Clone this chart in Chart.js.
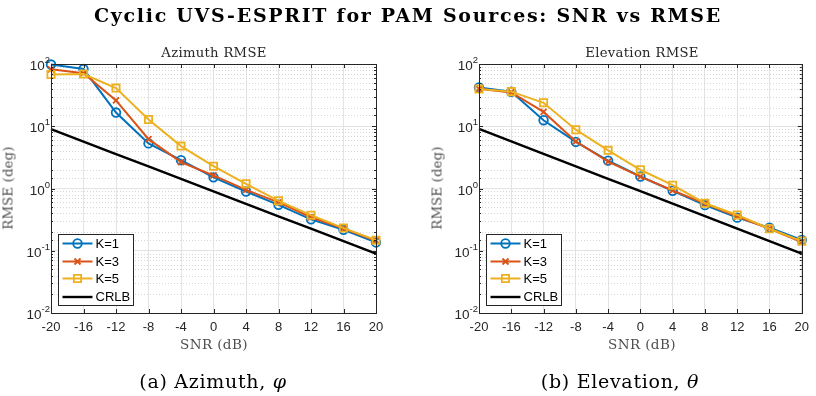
<!DOCTYPE html>
<html>
<head>
<meta charset="utf-8">
<script src="https://cdn.jsdelivr.net/npm/chart.js@4.4.0/dist/chart.umd.min.js"></script>
<style>
  html, body { margin: 0; padding: 0; background: #fff; }
  #page { position: relative; width: 816px; height: 396px; overflow: hidden; }
  .box { position: absolute; top: 0; width: 408px; height: 396px; }
  .txt { position: absolute; white-space: nowrap; transform: translate(-50%, -50%); font-family: "DejaVu Serif", serif; }
  .main { font-weight: bold; font-size: 19px; letter-spacing: 1.7px; color: #000; }
  .sub { font-size: 13.2px; letter-spacing: 0.3px; color: #262626; }
  .axl { font-size: 13.5px; letter-spacing: 0.4px; color: #4d4d4d; }
  .ylab { font-size: 13.2px; letter-spacing: 0.2px; transform: translate(-50%, -50%) rotate(-90deg); }
  .cap { font-size: 19px; letter-spacing: 0.7px; color: #000; }
</style>
</head>
<body>
<div id="page">
  <div class="box" style="left:0"><canvas id="azChart"></canvas></div>
  <div class="box" style="left:408px"><canvas id="elChart"></canvas></div>

  <div class="txt main" style="left:408px; top:15px">Cyclic UVS-ESPRIT for PAM Sources: SNR vs RMSE</div>
  <div class="txt sub" style="left:214px; top:52px">Azimuth RMSE</div>
  <div class="txt sub" style="left:642px; top:52px">Elevation RMSE</div>
  <div class="txt axl" style="left:214px; top:344px">SNR (dB)</div>
  <div class="txt axl" style="left:642px; top:344px">SNR (dB)</div>
  <div class="txt axl ylab" style="left:8px; top:188px">RMSE (deg)</div>
  <div class="txt axl ylab" style="left:437px; top:188px">RMSE (deg)</div>
  <div class="txt cap" style="left:213px; top:381px">(a) Azimuth, <i>φ</i></div>
  <div class="txt cap" style="left:620px; top:381px">(b) Elevation, <i>θ</i></div>
</div>

<script>
// SNR values (dB)
var snr = [-20, -16, -12, -8, -4, 0, 4, 8, 12, 16, 20];

// azimuth RMSE (deg)
var azK1 = [98, 83, 16.6, 5.3, 2.85, 1.51, 0.895, 0.547, 0.32, 0.217, 0.136];
var azK3 = [82, 71, 26, 6.2, 2.65, 1.62, 0.95, 0.6, 0.345, 0.228, 0.145];
var azK5 = [68, 69, 41, 12.8, 4.8, 2.28, 1.19, 0.634, 0.373, 0.231, 0.148];
var azCrlb = [9, 5.68, 3.58, 2.26, 1.43, 0.9, 0.568, 0.358, 0.226, 0.143, 0.09];

// elevation RMSE (deg)
var elK1 = [42, 35.8, 12.5, 5.6, 2.8, 1.56, 0.92, 0.54, 0.34, 0.234, 0.149];
var elK3 = [40, 35, 17, 5.7, 2.7, 1.55, 0.93, 0.57, 0.354, 0.226, 0.138];
var elK5 = [39.5, 36, 23.8, 8.8, 4.1, 2.0, 1.13, 0.58, 0.376, 0.226, 0.143];
var elCrlb = [9.06, 5.72, 3.6, 2.27, 1.43, 0.905, 0.57, 0.36, 0.227, 0.143, 0.09];

var seriesNames = ['K=1', 'K=3', 'K=5', 'CRLB'];
var yTicksMajor = [0.01, 0.1, 1, 10, 100];
var yTickExp = ['-2', '-1', '0', '1', '2'];

var colBlue = '#0072BD';
var colRed = '#D95319';
var colYellow = '#EDB120';
var colAxis = '#262626';
var sansFont = '"Liberation Sans", Arial, sans-serif';

function isMajor(v) {
    return yTicksMajor.some(function (m) { return Math.abs(v / m - 1) < 1e-6; });
}

// draw a marker like matlab's (used for the legend)
function drawMarker(ctx, style, color, x, y) {
    ctx.save();
    ctx.strokeStyle = color;
    ctx.lineWidth = 1.8;
    ctx.beginPath();
    if (style === 'circle') {
        ctx.arc(x, y, 4.3, 0, Math.PI * 2);
    } else if (style === 'crossRot') {
        ctx.moveTo(x - 3, y - 3); ctx.lineTo(x + 3, y + 3);
        ctx.moveTo(x + 3, y - 3); ctx.lineTo(x - 3, y + 3);
    } else if (style === 'rect') {
        ctx.rect(x - 3.6, y - 3.6, 7.2, 7.2);
    }
    ctx.stroke();
    ctx.restore();
}

var matlabAxes = {
    id: 'matlabAxes',
    beforeDatasetsDraw: function (chart) {
        // dotted minor grid on the log axis
        var ctx = chart.ctx, a = chart.chartArea, ys = chart.scales.y;
        ctx.save();
        ctx.strokeStyle = '#d6d6d6';
        ctx.lineWidth = 1;
        ctx.setLineDash([1, 2]);
        ys.ticks.forEach(function (t) {
            if (isMajor(t.value)) return;
            var py = Math.round(ys.getPixelForValue(t.value)) + 0.5;
            ctx.beginPath();
            ctx.moveTo(a.left, py);
            ctx.lineTo(a.right, py);
            ctx.stroke();
        });
        ctx.restore();
    },
    afterDraw: function (chart) {
        var ctx = chart.ctx, a = chart.chartArea;
        var xs = chart.scales.x, ys = chart.scales.y;
        ctx.save();
        ctx.strokeStyle = colAxis;
        ctx.lineWidth = 1;
        ctx.strokeRect(Math.round(a.left) + 0.5, Math.round(a.top) + 0.5,
            Math.round(a.right - a.left), Math.round(a.bottom - a.top));
        // inward ticks
        ctx.beginPath();
        snr.forEach(function (s, i) {
            var px = Math.round(xs.getPixelForValue(i)) + 0.5;
            ctx.moveTo(px, a.bottom); ctx.lineTo(px, a.bottom - 4);
            ctx.moveTo(px, a.top); ctx.lineTo(px, a.top + 4);
        });
        ys.ticks.forEach(function (t) {
            var py = Math.round(ys.getPixelForValue(t.value)) + 0.5;
            var len = isMajor(t.value) ? 4 : 2;
            ctx.moveTo(a.left, py); ctx.lineTo(a.left + len, py);
            ctx.moveTo(a.right, py); ctx.lineTo(a.right - len, py);
        });
        ctx.stroke();

        // y tick labels 10^n with a real superscript
        ctx.fillStyle = colAxis;
        ctx.textBaseline = 'alphabetic';
        ctx.textAlign = 'left';
        yTicksMajor.forEach(function (m, i) {
            var py = ys.getPixelForValue(m);
            ctx.font = '9.5px ' + sansFont;
            var ew = ctx.measureText(yTickExp[i]).width;
            ctx.font = '13.5px ' + sansFont;
            var bw = ctx.measureText('10').width;
            var xr = a.left - 1;
            ctx.fillText('10', xr - ew - bw, py + 6);
            ctx.font = '9.5px ' + sansFont;
            ctx.fillText(yTickExp[i], xr - ew, py - 1);
        });

        // legend in lower-left corner
        var bx = Math.round(a.left) + 7.5, bw2 = 75, bh = 71;
        var by = Math.round(a.bottom) - 8 - bh + 0.5;
        ctx.fillStyle = '#fff';
        ctx.fillRect(bx, by, bw2, bh);
        ctx.strokeStyle = colAxis;
        ctx.strokeRect(bx, by, bw2, bh);
        ctx.font = '13px ' + sansFont;
        ctx.textBaseline = 'middle';
        var rows = [9, 27, 44, 62.5];
        chart.data.datasets.forEach(function (ds, i) {
            var ry = by + rows[i];
            ctx.strokeStyle = ds.borderColor;
            ctx.lineWidth = ds.borderWidth;
            ctx.beginPath();
            ctx.moveTo(bx + 4, ry); ctx.lineTo(bx + 34, ry);
            ctx.stroke();
            if (ds.pointRadius > 0) drawMarker(ctx, ds.pointStyle, ds.borderColor, bx + 19, ry);
            ctx.fillStyle = '#000';
            ctx.fillText(ds.label, bx + 37, ry + 0.5);
        });
        ctx.restore();
    }
};

function makeChart(id, k1, k3, k5, crlb, padLeft, padRight) {
    var data = {
        labels: snr,
        datasets: [
            { label: seriesNames[0], data: k1, borderColor: colBlue, backgroundColor: 'transparent',
              borderWidth: 2, pointStyle: 'circle', pointRadius: 4.3, pointBorderWidth: 1.8, order: 3 },
            { label: seriesNames[1], data: k3, borderColor: colRed, backgroundColor: 'transparent',
              borderWidth: 2, pointStyle: 'crossRot', pointRadius: 4.2, pointBorderWidth: 1.8, order: 2 },
            { label: seriesNames[2], data: k5, borderColor: colYellow, backgroundColor: 'transparent',
              borderWidth: 2, pointStyle: 'rect', pointRadius: 5.1, pointBorderWidth: 1.8, order: 1 },
            { label: seriesNames[3], data: crlb, borderColor: '#000', backgroundColor: 'transparent',
              borderWidth: 2.4, pointRadius: 0, order: 0 }
        ]
    };

    return new Chart(document.getElementById(id), {
        type: 'line',
        data: data,
        plugins: [matlabAxes],
        options: {
            responsive: true,
            maintainAspectRatio: false,
            animation: { duration: 0 },
            clip: false,
            layout: { padding: { left: padLeft, right: padRight, top: 64, bottom: 63 } },
            plugins: { legend: { display: false }, tooltip: { enabled: false } },
            elements: { line: { tension: 0 } },
            scales: {
                x: {
                    type: 'category',
                    offset: false,
                    afterFit: function (s) { s.height = 20; },
                    grid: { color: '#e3e3e3', drawTicks: false },
                    border: { display: false },
                    ticks: {
                        padding: 7, color: colAxis, maxRotation: 0, autoSkip: false,
                        font: { family: sansFont, size: 13 }
                    }
                },
                y: {
                    type: 'logarithmic',
                    min: 0.01,
                    max: 100,
                    afterFit: function (s) { s.width = 51; },
                    grid: {
                        drawTicks: false,
                        color: function (c) { return c.tick && isMajor(c.tick.value) ? '#e3e3e3' : 'transparent'; }
                    },
                    border: { display: false },
                    ticks: {
                        // labels are drawn by the matlabAxes plugin
                        autoSkip: false,
                        callback: function () { return ''; }
                    }
                }
            }
        }
    });
}

makeChart('azChart', azK1, azK3, azK5, azCrlb, 0, 32);
makeChart('elChart', elK1, elK3, elK5, elCrlb, 20, 11);
</script>
</body>
</html>
